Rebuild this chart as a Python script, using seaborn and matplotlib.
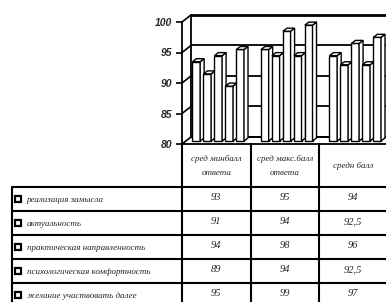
# 3d-style clustered bars with data table underneath (excel look)

import numpy as np
import pandas as pd
import matplotlib
matplotlib.use('Agg')
import matplotlib.pyplot as plt
from matplotlib.patches import Polygon
import seaborn as sns

categories = ['сред минбалл\nответа', 'сред макс.балл\nответа', 'средн балл']
series = ['реализация замысла', 'актуальность', 'практическая направленность',
          'психологическая комфортность', 'желание участвовать далее']
min_scores = [93, 91, 94, 89, 95]
max_scores = [95, 94, 98, 94, 99]
mean_scores = [94, 92.5, 96, 92.5, 97]
y_ticks = [80, 85, 90, 95, 100]

W, H, DPI = 386, 302, 100


def fig_rect(x0, y0, x1, y1):
    # pixel box (origin top left) -> figure fraction
    return [x0 / W, 1 - y1 / H, (x1 - x0) / W, (y1 - y0) / H]


sns.set_theme(style='white')
plt.rcParams['font.family'] = ['Liberation Serif', 'DejaVu Serif']

fig = plt.figure(figsize=(W / DPI, H / DPI), dpi=DPI)
fig.patch.set_facecolor('white')

# front plane of the chart
X0, CAT = 182, 68.5
Y80, Y100 = 144, 22
PY = (Y80 - Y100) / 20.0
ax = fig.add_axes(fig_rect(X0, Y100, X0 + 3 * CAT, Y80))
ax.set_facecolor('none')

df = pd.DataFrame({
    'cat': np.repeat(categories, len(series)),
    'series': series * len(categories),
    'score': min_scores + max_scores + mean_scores,
})
sns.barplot(data=df, x='cat', y='score', hue='series', order=categories,
            hue_order=series, palette=['white'] * len(series), width=0.8, gap=0.3,
            edgecolor='black', linewidth=1, legend=False, ax=ax)
ax.set_xlim(-0.5, 2.5)
ax.set_ylim(80, 100)

# back wall, offset in depth
bdx, bdy = 9 / CAT, 7 / PY
for v in y_ticks:
    lw = 2 if v == 100 else 1.3
    ax.plot([-0.5 + bdx, 3.2], [v + bdy, v + bdy], color='black', lw=lw, clip_on=False, zorder=1)
    ax.plot([-0.5, -0.5 + bdx], [v, v + bdy], color='black', lw=1.2, clip_on=False, zorder=1)
ax.plot([-0.5 + bdx] * 2, [80 + bdy, 100 + bdy], color='black', lw=1.3, clip_on=False, zorder=1)

# turn flat bars into boxes
sx, sy = 2 / CAT, 3 / PY
ddx, ddy = 4 / CAT, 3 / PY
bars = sorted(ax.patches, key=lambda p: p.get_x())
for k, p in enumerate(bars):
    x, w, h = p.get_x() + sx, p.get_width(), p.get_height() + sy
    b = 80 + sy
    z = 3 + k * 0.01
    p.set_x(x)
    p.set_y(b)
    p.set_height(h - b)
    p.set_clip_on(False)
    p.set_zorder(z)
    side = Polygon([(x + w, b), (x + w, h), (x + w + ddx, h + ddy), (x + w + ddx, b + ddy)],
                   closed=True, facecolor='white', edgecolor='black', lw=1, clip_on=False, zorder=z)
    top = Polygon([(x, h), (x + w, h), (x + w + ddx, h + ddy), (x + ddx, h + ddy)],
                  closed=True, facecolor='white', edgecolor='black', lw=1, clip_on=False, zorder=z)
    ax.add_patch(side)
    ax.add_patch(top)

# floor back edge
ax.plot([-0.5 + bdx, 3.2], [80 + bdy, 80 + bdy], color='black', lw=1.3, clip_on=False, zorder=2)

for s in ['top', 'right']:
    ax.spines[s].set_visible(False)
for s in ['left', 'bottom']:
    ax.spines[s].set_color('black')
    ax.spines[s].set_linewidth(1.3)
ax.set_yticks(y_ticks, labels=[str(v) for v in y_ticks], fontfamily='Liberation Sans',
              fontstyle='italic', fontweight='bold', fontsize=7.5)
ax.set_xticks([-0.5, 0.5, 1.5, 2.5])
ax.set_xticklabels([])
ax.set_xlabel('')
ax.set_ylabel('')
ax.tick_params(left=True, bottom=True, length=4, width=1.2, color='black', pad=3)

# data table
ROW = 24
XL = -0.5 - (X0 - 12) / CAT
HT = -(187 - 144) / ROW
tab = fig.add_axes(fig_rect(12, 144, 387.5, 187 + 5 * ROW))
tab.set_xlim(XL, 2.5)
tab.set_ylim(5, HT)
tab.axis('off')

for i in range(len(series) + 1):
    tab.plot([XL, 2.5], [i, i], color='black', lw=1.5, clip_on=False)
tab.plot([XL, XL], [0, 5], color='black', lw=1.5, clip_on=False)
for xb in [-0.5, 0.5, 1.5]:
    tab.plot([xb, xb], [HT, 5], color='black', lw=1.5, clip_on=False)

for j, c in enumerate(categories):
    tab.text(j, HT / 2 + 0.02, c, ha='center', va='center', style='italic',
             fontsize=6.5, linespacing=1.9)

cols = [min_scores, max_scores, mean_scores]
for i, name in enumerate(series):
    tab.plot(XL + 6 / CAT, i + 0.5, marker='s', ms=5, mfc='white', mec='black', mew=1.6,
             clip_on=False)
    tab.text(XL + 15 / CAT, i + 0.55, name, ha='left', va='center', style='italic', fontsize=6.5)
    for j in range(len(categories)):
        txt = f'{cols[j][i]:g}'.replace('.', ',')
        tab.text(j, i + 0.45, txt, ha='center', va='center', style='italic', fontsize=7.5)

fig.savefig('out.png', dpi=DPI)
plt.close(fig)
